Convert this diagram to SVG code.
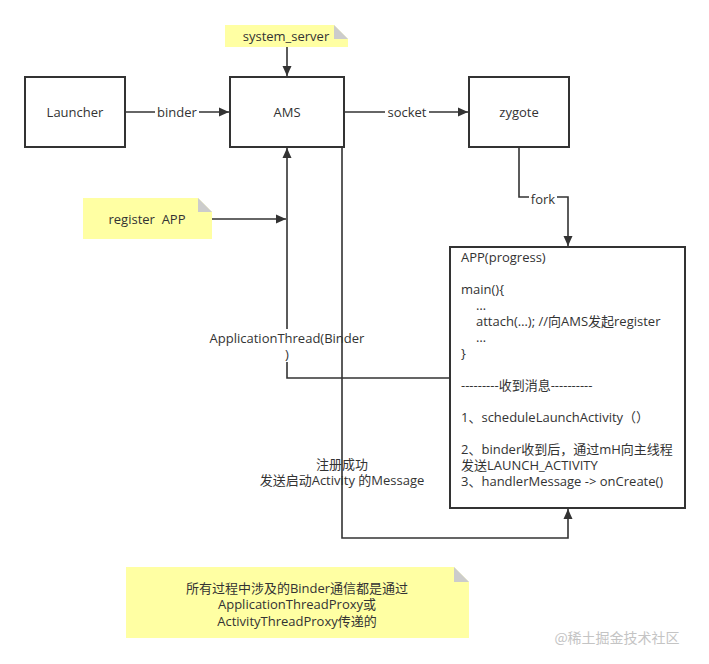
<svg xmlns="http://www.w3.org/2000/svg" width="709" height="664" viewBox="0 0 709 664">
<defs>
<marker id="ah" viewBox="0 0 10 10" refX="10" refY="5" markerWidth="10" markerHeight="10" markerUnits="userSpaceOnUse" orient="auto">
<path d="M0,0.5 L10,5 L0,9.5 Z" fill="#333"/>
</marker>
<style>
.box{fill:#fff;stroke:#333;stroke-width:2}
.note{fill:#ffffa3;stroke:none}
.fold{fill:#cccccc}
.t{font-family:"Open Sans","Noto Sans CJK SC",sans-serif;font-size:13px;fill:#333}
.c{text-anchor:middle}
.ln{fill:none;stroke:#333;stroke-width:1.6}
.lbg{fill:#fff}
</style>
</defs>
<rect width="709" height="664" fill="#fff"/>

<g id="edges">
<path class="ln" d="M125,112 H229" marker-end="url(#ah)"/>
<rect class="lbg" x="155" y="104" width="44" height="16"/>
<text class="t c" x="177" y="117">binder</text>
<path class="ln" d="M344,112 H468" marker-end="url(#ah)"/>
<rect class="lbg" x="385" y="104" width="44" height="16"/>
<text class="t c" x="407" y="117">socket</text>
<path class="ln" d="M287,47 V76" marker-end="url(#ah)"/>
<path class="ln" d="M212,219 H286" marker-end="url(#ah)"/>
<path class="ln" d="M519,147 V197 H568 V246" marker-end="url(#ah)"/>
<rect class="lbg" x="529" y="191" width="28" height="16"/>
<text class="t c" x="543" y="204">fork</text>
<path class="ln" d="M450,378 H287 V148" marker-end="url(#ah)"/>
<rect class="lbg" x="207" y="329" width="160" height="33"/>
<text class="t c" x="287" y="343">ApplicationThread(Binder</text>
<text class="t c" x="287" y="359">)</text>
<path class="ln" d="M342,147 V538 H568 V509" marker-end="url(#ah)"/>
<text class="t c" x="342" y="469">注册成功</text>
<text class="t c" x="342" y="485">发送启动Activity 的Message</text>
</g>

<g id="system_server">
<path class="note" d="M225,25 H334 L348,39 V47 H225 Z"/>
<path class="fold" d="M334,25 L348,39 H334 Z"/>
<text class="t c" x="286" y="41">system_server</text>
</g>

<g id="register_app">
<path class="note" d="M83,198 H198 L212,212 V239 H83 Z"/>
<path class="fold" d="M198,198 L212,212 H198 Z"/>
<text class="t c" x="147" y="224" xml:space="preserve">register  APP</text>
</g>

<g id="launcher">
<rect class="box" x="25" y="77" width="100" height="70"/>
<text class="t c" x="75" y="117">Launcher</text>
</g>

<g id="ams">
<rect class="box" x="230" y="77" width="114" height="70"/>
<text class="t c" x="287" y="117">AMS</text>
</g>

<g id="zygote">
<rect class="box" x="469" y="77" width="100" height="70"/>
<text class="t c" x="519" y="117">zygote</text>
</g>

<g id="app">
<rect class="box" x="450" y="247" width="235" height="261"/>
<text class="t" x="461" y="262">APP(progress)</text>
<text class="t" x="461" y="294">main(){</text>
<text class="t" x="476" y="310">…</text>
<text class="t" x="476" y="326">attach(…); //向AMS发起register</text>
<text class="t" x="476" y="342">…</text>
<text class="t" x="461" y="358">}</text>
<text class="t" x="461" y="390">---------收到消息----------</text>
<text class="t" x="461" y="422">1、scheduleLaunchActivity（）</text>
<text class="t" x="461" y="454">2、binder收到后，通过mH向主线程</text>
<text class="t" x="461" y="470">发送LAUNCH_ACTIVITY</text>
<text class="t" x="461" y="486">3、handlerMessage -&gt; onCreate()</text>
</g>

<g id="note_binder">
<path class="note" d="M126,567 H454 L469,582 V638 H126 Z"/>
<path class="fold" d="M454,567 L469,582 H454 Z"/>
<text class="t c" x="297" y="593">所有过程中涉及的Binder通信都是通过</text>
<text class="t c" x="297" y="609">ApplicationThreadProxy或</text>
<text class="t c" x="297" y="626">ActivityThreadProxy传递的</text>
</g>

<text x="617" y="643" style="font-family:'Noto Sans CJK SC',sans-serif;font-size:14px;fill:#c4c4c4;text-anchor:middle">@稀土掘金技术社区</text>
</svg>
